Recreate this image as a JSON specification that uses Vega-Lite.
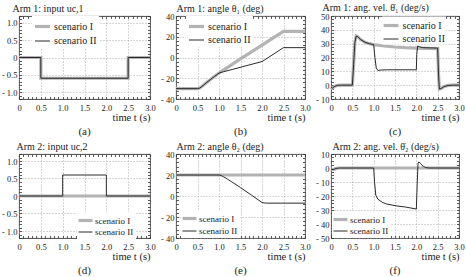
{
"$schema":"https://vega.github.io/schema/vega-lite/v6.json",
"padding":{"left":0,"top":1,"right":0,"bottom":0},
"config":{
 "font":"Liberation Serif",
 "view":{"stroke":"#333","strokeWidth":0.9},
 "axis":{"labelFont":"Liberation Serif","labelFontSize":8.5,"labelColor":"#222","titleFont":"Liberation Serif","titleFontWeight":"normal","titleColor":"#222","ticks":false,"domain":false,"grid":false,"labelFlush":false,"labelOverlap":false,"gridColor":"#999","gridDash":[1,2],"gridWidth":0.8,"tickColor":"#333","tickWidth":0.8,"minExtent":0},
 "legend":{"fillColor":"white","padding":2,"labelFontSize":10,"labelOffset":3,"labelColor":"#222","labelFont":"Liberation Serif"},
 "title":{"orient":"bottom","anchor":"middle","fontSize":11,"fontWeight":"normal","offset":3,"color":"#222","font":"Liberation Serif"}
},
"datasets":{
 "a":[{"s":"scenario I","i":0,"t":0,"v":0},{"s":"scenario I","i":1,"t":0.5,"v":0},{"s":"scenario I","i":2,"t":0.5,"v":-0.6},{"s":"scenario I","i":3,"t":2.5,"v":-0.6},{"s":"scenario I","i":4,"t":2.5,"v":0},{"s":"scenario I","i":5,"t":3,"v":0},
      {"s":"scenario II","i":0,"t":0,"v":0},{"s":"scenario II","i":1,"t":0.5,"v":0},{"s":"scenario II","i":2,"t":0.5,"v":-0.6},{"s":"scenario II","i":3,"t":2.5,"v":-0.6},{"s":"scenario II","i":4,"t":2.5,"v":0},{"s":"scenario II","i":5,"t":3,"v":0}],
 "b":[{"s":"scenario I","i":0,"t":0,"v":-30},{"s":"scenario I","i":1,"t":0.5,"v":-30},{"s":"scenario I","i":2,"t":0.55,"v":-29.5},{"s":"scenario I","i":3,"t":0.6,"v":-28},{"s":"scenario I","i":4,"t":0.7,"v":-24.5},{"s":"scenario I","i":5,"t":0.8,"v":-21.3},{"s":"scenario I","i":6,"t":0.9,"v":-18.1},{"s":"scenario I","i":7,"t":1,"v":-15},{"s":"scenario I","i":8,"t":1.5,"v":-1.3},{"s":"scenario I","i":9,"t":2,"v":12},{"s":"scenario I","i":10,"t":2.5,"v":25.2},{"s":"scenario I","i":11,"t":3,"v":25.2},
      {"s":"scenario II","i":0,"t":0,"v":-30},{"s":"scenario II","i":1,"t":0.5,"v":-30},{"s":"scenario II","i":2,"t":0.55,"v":-29.5},{"s":"scenario II","i":3,"t":0.6,"v":-28},{"s":"scenario II","i":4,"t":0.7,"v":-24.5},{"s":"scenario II","i":5,"t":0.8,"v":-21.3},{"s":"scenario II","i":6,"t":0.9,"v":-18.1},{"s":"scenario II","i":7,"t":1,"v":-15},{"s":"scenario II","i":8,"t":1.05,"v":-14.3},{"s":"scenario II","i":9,"t":1.1,"v":-13.8},{"s":"scenario II","i":10,"t":2,"v":-3.9},{"s":"scenario II","i":11,"t":2.05,"v":-2.6},{"s":"scenario II","i":12,"t":2.5,"v":9.5},{"s":"scenario II","i":13,"t":3,"v":9.5}],
 "c":[{"s":"scenario I","i":0,"t":0,"v":-1.5},{"s":"scenario I","i":1,"t":0.03,"v":-2.2},{"s":"scenario I","i":2,"t":0.08,"v":-1},{"s":"scenario I","i":3,"t":0.15,"v":-0.1},{"s":"scenario I","i":4,"t":0.25,"v":0},{"s":"scenario I","i":5,"t":0.5,"v":0},{"s":"scenario I","i":6,"t":0.53,"v":15},{"s":"scenario I","i":7,"t":0.56,"v":31},{"s":"scenario I","i":8,"t":0.59,"v":35.5},{"s":"scenario I","i":9,"t":0.63,"v":35},{"s":"scenario I","i":10,"t":0.7,"v":32.8},{"s":"scenario I","i":11,"t":0.8,"v":31},{"s":"scenario I","i":12,"t":0.9,"v":30},{"s":"scenario I","i":13,"t":1,"v":29.3},{"s":"scenario I","i":14,"t":1.25,"v":28.3},{"s":"scenario I","i":15,"t":1.5,"v":27.6},{"s":"scenario I","i":16,"t":1.75,"v":27.1},{"s":"scenario I","i":17,"t":2,"v":26.8},{"s":"scenario I","i":18,"t":2.25,"v":26.6},{"s":"scenario I","i":19,"t":2.5,"v":26.4},{"s":"scenario I","i":20,"t":2.52,"v":8},{"s":"scenario I","i":21,"t":2.54,"v":-2.8},{"s":"scenario I","i":22,"t":2.58,"v":-2.5},{"s":"scenario I","i":23,"t":2.65,"v":-1},{"s":"scenario I","i":24,"t":2.75,"v":-0.2},{"s":"scenario I","i":25,"t":2.85,"v":0},{"s":"scenario I","i":26,"t":3,"v":0},
      {"s":"scenario II","i":0,"t":0,"v":-1.5},{"s":"scenario II","i":1,"t":0.03,"v":-2.2},{"s":"scenario II","i":2,"t":0.08,"v":-1},{"s":"scenario II","i":3,"t":0.15,"v":-0.1},{"s":"scenario II","i":4,"t":0.25,"v":0},{"s":"scenario II","i":5,"t":0.5,"v":0},{"s":"scenario II","i":6,"t":0.53,"v":15},{"s":"scenario II","i":7,"t":0.56,"v":31},{"s":"scenario II","i":8,"t":0.59,"v":35.5},{"s":"scenario II","i":9,"t":0.63,"v":35},{"s":"scenario II","i":10,"t":0.7,"v":32.8},{"s":"scenario II","i":11,"t":0.8,"v":31},{"s":"scenario II","i":12,"t":0.9,"v":30},{"s":"scenario II","i":13,"t":1,"v":29.3},{"s":"scenario II","i":14,"t":1.03,"v":20},{"s":"scenario II","i":15,"t":1.06,"v":12.5},{"s":"scenario II","i":16,"t":1.1,"v":10.6},{"s":"scenario II","i":17,"t":1.15,"v":10.9},{"s":"scenario II","i":18,"t":1.3,"v":11.1},{"s":"scenario II","i":19,"t":2,"v":11.1},{"s":"scenario II","i":20,"t":2.01,"v":22},{"s":"scenario II","i":21,"t":2.03,"v":28.3},{"s":"scenario II","i":22,"t":2.07,"v":27.8},{"s":"scenario II","i":23,"t":2.15,"v":27.1},{"s":"scenario II","i":24,"t":2.5,"v":26.8},{"s":"scenario II","i":25,"t":2.52,"v":8},{"s":"scenario II","i":26,"t":2.54,"v":-2.8},{"s":"scenario II","i":27,"t":2.58,"v":-2.5},{"s":"scenario II","i":28,"t":2.65,"v":-1},{"s":"scenario II","i":29,"t":2.75,"v":-0.2},{"s":"scenario II","i":30,"t":2.85,"v":0},{"s":"scenario II","i":31,"t":3,"v":0}],
 "d":[{"s":"scenario I","i":0,"t":0,"v":0},{"s":"scenario I","i":1,"t":3,"v":0},
      {"s":"scenario II","i":0,"t":0,"v":0},{"s":"scenario II","i":1,"t":1,"v":0},{"s":"scenario II","i":2,"t":1,"v":0.6},{"s":"scenario II","i":3,"t":2,"v":0.6},{"s":"scenario II","i":4,"t":2,"v":0},{"s":"scenario II","i":5,"t":3,"v":0}],
 "e":[{"s":"scenario I","i":0,"t":0,"v":20},{"s":"scenario I","i":1,"t":3,"v":20},
      {"s":"scenario II","i":0,"t":0,"v":20},{"s":"scenario II","i":1,"t":1,"v":20},{"s":"scenario II","i":2,"t":1.05,"v":19.5},{"s":"scenario II","i":3,"t":1.1,"v":18.4},{"s":"scenario II","i":4,"t":1.2,"v":16},{"s":"scenario II","i":5,"t":1.3,"v":13.4},{"s":"scenario II","i":6,"t":1.5,"v":8},{"s":"scenario II","i":7,"t":1.75,"v":1},{"s":"scenario II","i":8,"t":2,"v":-6.2},{"s":"scenario II","i":9,"t":2.05,"v":-6.6},{"s":"scenario II","i":10,"t":2.1,"v":-6.8},{"s":"scenario II","i":11,"t":3,"v":-6.8}],
 "f":[{"s":"scenario I","i":0,"t":0,"v":-0.8},{"s":"scenario I","i":1,"t":0.05,"v":-1.2},{"s":"scenario I","i":2,"t":0.12,"v":-0.3},{"s":"scenario I","i":3,"t":0.2,"v":0},{"s":"scenario I","i":4,"t":3,"v":0},
      {"s":"scenario II","i":0,"t":0,"v":-0.8},{"s":"scenario II","i":1,"t":0.05,"v":-1.2},{"s":"scenario II","i":2,"t":0.12,"v":-0.3},{"s":"scenario II","i":3,"t":0.2,"v":0},{"s":"scenario II","i":4,"t":1,"v":0},{"s":"scenario II","i":5,"t":1.02,"v":-10},{"s":"scenario II","i":6,"t":1.05,"v":-19.5},{"s":"scenario II","i":7,"t":1.1,"v":-22.3},{"s":"scenario II","i":8,"t":1.2,"v":-24.5},{"s":"scenario II","i":9,"t":1.3,"v":-25.7},{"s":"scenario II","i":10,"t":1.5,"v":-26.9},{"s":"scenario II","i":11,"t":1.75,"v":-27.9},{"s":"scenario II","i":12,"t":2,"v":-29.3},{"s":"scenario II","i":13,"t":2.02,"v":-12},{"s":"scenario II","i":14,"t":2.04,"v":3.5},{"s":"scenario II","i":15,"t":2.06,"v":4.3},{"s":"scenario II","i":16,"t":2.1,"v":3.2},{"s":"scenario II","i":17,"t":2.15,"v":1.5},{"s":"scenario II","i":18,"t":2.22,"v":0.3},{"s":"scenario II","i":19,"t":2.3,"v":0},{"s":"scenario II","i":20,"t":3,"v":0}]
},
"resolve":{"scale":{"color":"independent","strokeWidth":"independent"},"legend":{"color":"independent","strokeWidth":"independent"}},
"spacing":2,
"vconcat":[
{"hconcat":[
  {"width":131,"height":83,"data":{"name":"a"},"title":{"text":"(a)"},
   "layer":[
    {"mark":{"type":"line"},"encoding":{
      "x":{"field":"t","type":"quantitative","scale":{"domain":[0,3],"nice":false,"zero":false},"axis":{"orient":"bottom","values":[0,0.5,1,1.5,2,2.5,3],"labelExpr":"datum.value == 0 ? '0' : format(datum.value, '.1f')","labelPadding":4,"grid":true,"title":"time t (s)","titleAnchor":"end","titleFontSize":10.5,"titlePadding":1}},
      "y":{"field":"v","type":"quantitative","scale":{"domain":[-1.2,1.2],"nice":false,"zero":false},"axis":{"orient":"left","values":[-1,-0.5,0,0.5,1],"labelExpr":"datum.value == 0 ? '0' : datum.value < 0 ? '- ' + format(-datum.value, '.1f') : format(datum.value, '.1f')","labelPadding":2,"grid":true,"title":null}},
      "color":{"field":"s","type":"nominal","scale":{"domain":["scenario I","scenario II"],"range":["#b3b3b3","#2b2b2b"]},"legend":{"title":null,"orient":"none","legendX":13,"legendY":0,"rowPadding":1,"symbolType":"M-1.15,0H1.15","symbolSize":169}},
      "strokeWidth":{"field":"s","type":"nominal","scale":{"domain":["scenario I","scenario II"],"range":[3.2,1]},"legend":{"title":null,"orient":"none","legendX":13,"legendY":0,"rowPadding":1,"symbolType":"M-1.15,0H1.15","symbolSize":169}},
      "order":{"field":"i","type":"quantitative"}}},
    {"mark":{"type":"line","opacity":0},"encoding":{
      "x":{"field":"t","type":"quantitative","scale":{"domain":[0,3],"nice":false,"zero":false},"axis":{"orient":"bottom","values":[0,0.1,0.2,0.3,0.4,0.5,0.6,0.7,0.8,0.9,1,1.1,1.2,1.3,1.4,1.5,1.6,1.7,1.8,1.9,2,2.1,2.2,2.3,2.4,2.5,2.6,2.7,2.8,2.9,3],"ticks":true,"tickSize":-2.5,"labels":false,"title":null}},
      "y":{"field":"v","type":"quantitative","scale":{"domain":[-1.2,1.2],"nice":false,"zero":false},"axis":{"orient":"left","values":[-1.2,-1.1,-1,-0.9,-0.8,-0.7,-0.6,-0.5,-0.4,-0.3,-0.2,-0.1,0,0.1,0.2,0.3,0.4,0.5,0.6,0.7,0.8,0.9,1,1.1,1.2],"ticks":true,"tickSize":-2.5,"labels":false,"title":null}},
      "order":{"field":"i","type":"quantitative"}}},
    {"mark":{"type":"line","opacity":0},"encoding":{
      "x":{"field":"t","type":"quantitative","scale":{"domain":[0,3],"nice":false,"zero":false},"axis":{"orient":"top","values":[0,0.1,0.2,0.3,0.4,0.5,0.6,0.7,0.8,0.9,1,1.1,1.2,1.3,1.4,1.5,1.6,1.7,1.8,1.9,2,2.1,2.2,2.3,2.4,2.5,2.6,2.7,2.8,2.9,3],"ticks":true,"tickSize":-2.5,"labels":false,"title":"Arm 1: input uc,1","titleAnchor":"start","titleAlign":"left","titleX":-7,"titleY":-5,"titleBaseline":"alphabetic","titleFontSize":10}},
      "y":{"field":"v","type":"quantitative","scale":{"domain":[-1.2,1.2],"nice":false,"zero":false},"axis":{"orient":"right","values":[-1.2,-1.1,-1,-0.9,-0.8,-0.7,-0.6,-0.5,-0.4,-0.3,-0.2,-0.1,0,0.1,0.2,0.3,0.4,0.5,0.6,0.7,0.8,0.9,1,1.1,1.2],"ticks":true,"tickSize":-2.5,"labels":false,"title":null}},
      "order":{"field":"i","type":"quantitative"}}}
   ],
   "resolve":{"axis":{"x":"independent","y":"independent"}}},
  {"width":129,"height":83,"data":{"name":"b"},"title":{"text":"(b)"},
   "layer":[
    {"mark":{"type":"line"},"encoding":{
      "x":{"field":"t","type":"quantitative","scale":{"domain":[0,3],"nice":false,"zero":false},"axis":{"orient":"bottom","values":[0,0.5,1,1.5,2,2.5,3],"labelExpr":"datum.value == 0 ? '0' : format(datum.value, '.1f')","labelPadding":4,"grid":true,"title":"time t (s)","titleAnchor":"end","titleFontSize":10.5,"titlePadding":1}},
      "y":{"field":"v","type":"quantitative","scale":{"domain":[-40,40],"nice":false,"zero":false},"axis":{"orient":"left","values":[-40,-20,0,20,40],"labelExpr":"datum.value < 0 ? '- ' + format(-datum.value, 'd') : format(datum.value, 'd')","labelPadding":2,"grid":true,"title":null}},
      "color":{"field":"s","type":"nominal","scale":{"domain":["scenario I","scenario II"],"range":["#b3b3b3","#2b2b2b"]},"legend":{"title":null,"orient":"none","legendX":10,"legendY":0,"rowPadding":0,"symbolType":"M-1.15,0H1.15","symbolSize":169}},
      "strokeWidth":{"field":"s","type":"nominal","scale":{"domain":["scenario I","scenario II"],"range":[3.2,1]},"legend":{"title":null,"orient":"none","legendX":10,"legendY":0,"rowPadding":0,"symbolType":"M-1.15,0H1.15","symbolSize":169}},
      "order":{"field":"i","type":"quantitative"}}},
    {"mark":{"type":"line","opacity":0},"encoding":{
      "x":{"field":"t","type":"quantitative","scale":{"domain":[0,3],"nice":false,"zero":false},"axis":{"orient":"bottom","values":[0,0.1,0.2,0.3,0.4,0.5,0.6,0.7,0.8,0.9,1,1.1,1.2,1.3,1.4,1.5,1.6,1.7,1.8,1.9,2,2.1,2.2,2.3,2.4,2.5,2.6,2.7,2.8,2.9,3],"ticks":true,"tickSize":-2.5,"labels":false,"title":null}},
      "y":{"field":"v","type":"quantitative","scale":{"domain":[-40,40],"nice":false,"zero":false},"axis":{"orient":"left","values":[-40,-36,-32,-28,-24,-20,-16,-12,-8,-4,0,4,8,12,16,20,24,28,32,36,40],"ticks":true,"tickSize":-2.5,"labels":false,"title":null}},
      "order":{"field":"i","type":"quantitative"}}},
    {"mark":{"type":"line","opacity":0},"encoding":{
      "x":{"field":"t","type":"quantitative","scale":{"domain":[0,3],"nice":false,"zero":false},"axis":{"orient":"top","values":[0,0.1,0.2,0.3,0.4,0.5,0.6,0.7,0.8,0.9,1,1.1,1.2,1.3,1.4,1.5,1.6,1.7,1.8,1.9,2,2.1,2.2,2.3,2.4,2.5,2.6,2.7,2.8,2.9,3],"ticks":true,"tickSize":-2.5,"labels":false,"title":"Arm 1: angle \u03b8\u2081 (deg)","titleAnchor":"start","titleAlign":"left","titleX":0,"titleY":-5,"titleBaseline":"alphabetic","titleFontSize":10}},
      "y":{"field":"v","type":"quantitative","scale":{"domain":[-40,40],"nice":false,"zero":false},"axis":{"orient":"right","values":[-40,-36,-32,-28,-24,-20,-16,-12,-8,-4,0,4,8,12,16,20,24,28,32,36,40],"ticks":true,"tickSize":-2.5,"labels":false,"title":null}},
      "order":{"field":"i","type":"quantitative"}}}
   ],
   "resolve":{"axis":{"x":"independent","y":"independent"}}},
 {"width":128,"height":83,"data":{"name":"c"},"title":{"text":"(c)"},
   "layer":[
    {"mark":{"type":"line"},"encoding":{
      "x":{"field":"t","type":"quantitative","scale":{"domain":[0,3],"nice":false,"zero":false},"axis":{"orient":"bottom","values":[0,0.5,1,1.5,2,2.5,3],"labelExpr":"datum.value == 0 ? '0' : format(datum.value, '.1f')","labelPadding":4,"grid":true,"title":"time t (s)","titleAnchor":"end","titleFontSize":10.5,"titlePadding":1}},
      "y":{"field":"v","type":"quantitative","scale":{"domain":[-10,50],"nice":false,"zero":false},"axis":{"orient":"left","values":[-10,0,10,20,30,40,50],"labelExpr":"datum.value < 0 ? '- ' + format(-datum.value, 'd') : format(datum.value, 'd')","labelPadding":2,"grid":true,"title":null}},
      "color":{"field":"s","type":"nominal","scale":{"domain":["scenario I","scenario II"],"range":["#b3b3b3","#2b2b2b"]},"legend":{"title":null,"orient":"none","legendX":51,"legendY":0.5,"padding":0.5,"rowPadding":0,"symbolType":"M-1.15,0H1.15","symbolSize":169}},
      "strokeWidth":{"field":"s","type":"nominal","scale":{"domain":["scenario I","scenario II"],"range":[3.2,1]},"legend":{"title":null,"orient":"none","legendX":51,"legendY":0.5,"padding":0.5,"rowPadding":0,"symbolType":"M-1.15,0H1.15","symbolSize":169}},
      "order":{"field":"i","type":"quantitative"}}},
    {"mark":{"type":"line","opacity":0},"encoding":{
      "x":{"field":"t","type":"quantitative","scale":{"domain":[0,3],"nice":false,"zero":false},"axis":{"orient":"bottom","values":[0,0.1,0.2,0.3,0.4,0.5,0.6,0.7,0.8,0.9,1,1.1,1.2,1.3,1.4,1.5,1.6,1.7,1.8,1.9,2,2.1,2.2,2.3,2.4,2.5,2.6,2.7,2.8,2.9,3],"ticks":true,"tickSize":-2.5,"labels":false,"title":null}},
      "y":{"field":"v","type":"quantitative","scale":{"domain":[-10,50],"nice":false,"zero":false},"axis":{"orient":"left","values":[-10,-7.5,-5,-2.5,0,2.5,5,7.5,10,12.5,15,17.5,20,22.5,25,27.5,30,32.5,35,37.5,40,42.5,45,47.5,50],"ticks":true,"tickSize":-2.5,"labels":false,"title":null}},
      "order":{"field":"i","type":"quantitative"}}},
    {"mark":{"type":"line","opacity":0},"encoding":{
      "x":{"field":"t","type":"quantitative","scale":{"domain":[0,3],"nice":false,"zero":false},"axis":{"orient":"top","values":[0,0.1,0.2,0.3,0.4,0.5,0.6,0.7,0.8,0.9,1,1.1,1.2,1.3,1.4,1.5,1.6,1.7,1.8,1.9,2,2.1,2.2,2.3,2.4,2.5,2.6,2.7,2.8,2.9,3],"ticks":true,"tickSize":-2.5,"labels":false,"title":"Arm 1: ang. vel. \u03b8\u0307\u2081 (deg/s)","titleAnchor":"start","titleAlign":"left","titleX":-9,"titleY":-6,"titleBaseline":"alphabetic","titleFontSize":10}},
      "y":{"field":"v","type":"quantitative","scale":{"domain":[-10,50],"nice":false,"zero":false},"axis":{"orient":"right","values":[-10,-7.5,-5,-2.5,0,2.5,5,7.5,10,12.5,15,17.5,20,22.5,25,27.5,30,32.5,35,37.5,40,42.5,45,47.5,50],"ticks":true,"tickSize":-2.5,"labels":false,"title":null}},
      "order":{"field":"i","type":"quantitative"}}}
   ],
   "resolve":{"axis":{"x":"independent","y":"independent"}}}
],"spacing":26,"bounds":"flush","resolve":{"scale":{"color":"independent","strokeWidth":"independent"},"legend":{"color":"independent","strokeWidth":"independent"}}},
{"hconcat":[
  {"width":131,"height":84,"data":{"name":"d"},"title":{"text":"(d)"},
   "layer":[
    {"mark":{"type":"line"},"encoding":{
      "x":{"field":"t","type":"quantitative","scale":{"domain":[0,3],"nice":false,"zero":false},"axis":{"orient":"bottom","values":[0,0.5,1,1.5,2,2.5,3],"labelExpr":"datum.value == 0 ? '0' : format(datum.value, '.1f')","labelPadding":4,"grid":true,"title":"time t (s)","titleAnchor":"end","titleFontSize":10.5,"titlePadding":1}},
      "y":{"field":"v","type":"quantitative","scale":{"domain":[-1.2,1.2],"nice":false,"zero":false},"axis":{"orient":"left","values":[-1,-0.5,0,0.5,1],"labelExpr":"datum.value == 0 ? '0' : datum.value < 0 ? '- ' + format(-datum.value, '.1f') : format(datum.value, '.1f')","labelPadding":2,"grid":true,"title":null}},
      "color":{"field":"s","type":"nominal","scale":{"domain":["scenario I","scenario II"],"range":["#b3b3b3","#2b2b2b"]},"legend":{"title":null,"orient":"none","legendX":58,"legendY":58,"rowPadding":0,"labelFontSize":9,"symbolType":"M-1.55,0H1.55","symbolSize":81}},
      "strokeWidth":{"field":"s","type":"nominal","scale":{"domain":["scenario I","scenario II"],"range":[3.2,1]},"legend":{"title":null,"orient":"none","legendX":58,"legendY":58,"rowPadding":0,"labelFontSize":9,"symbolType":"M-1.55,0H1.55","symbolSize":81}},
      "order":{"field":"i","type":"quantitative"}}},
    {"mark":{"type":"line","opacity":0},"encoding":{
      "x":{"field":"t","type":"quantitative","scale":{"domain":[0,3],"nice":false,"zero":false},"axis":{"orient":"bottom","values":[0,0.1,0.2,0.3,0.4,0.5,0.6,0.7,0.8,0.9,1,1.1,1.2,1.3,1.4,1.5,1.6,1.7,1.8,1.9,2,2.1,2.2,2.3,2.4,2.5,2.6,2.7,2.8,2.9,3],"ticks":true,"tickSize":-2.5,"labels":false,"title":null}},
      "y":{"field":"v","type":"quantitative","scale":{"domain":[-1.2,1.2],"nice":false,"zero":false},"axis":{"orient":"left","values":[-1.2,-1.1,-1,-0.9,-0.8,-0.7,-0.6,-0.5,-0.4,-0.3,-0.2,-0.1,0,0.1,0.2,0.3,0.4,0.5,0.6,0.7,0.8,0.9,1,1.1,1.2],"ticks":true,"tickSize":-2.5,"labels":false,"title":null}},
      "order":{"field":"i","type":"quantitative"}}},
    {"mark":{"type":"line","opacity":0},"encoding":{
      "x":{"field":"t","type":"quantitative","scale":{"domain":[0,3],"nice":false,"zero":false},"axis":{"orient":"top","values":[0,0.1,0.2,0.3,0.4,0.5,0.6,0.7,0.8,0.9,1,1.1,1.2,1.3,1.4,1.5,1.6,1.7,1.8,1.9,2,2.1,2.2,2.3,2.4,2.5,2.6,2.7,2.8,2.9,3],"ticks":true,"tickSize":-2.5,"labels":false,"title":"Arm 2: input uc,2","titleAnchor":"start","titleAlign":"left","titleX":-3,"titleY":-5,"titleBaseline":"alphabetic","titleFontSize":10}},
      "y":{"field":"v","type":"quantitative","scale":{"domain":[-1.2,1.2],"nice":false,"zero":false},"axis":{"orient":"right","values":[-1.2,-1.1,-1,-0.9,-0.8,-0.7,-0.6,-0.5,-0.4,-0.3,-0.2,-0.1,0,0.1,0.2,0.3,0.4,0.5,0.6,0.7,0.8,0.9,1,1.1,1.2],"ticks":true,"tickSize":-2.5,"labels":false,"title":null}},
      "order":{"field":"i","type":"quantitative"}}}
   ],
   "resolve":{"axis":{"x":"independent","y":"independent"}}},
  {"width":129,"height":84,"data":{"name":"e"},"title":{"text":"(e)"},
   "layer":[
    {"mark":{"type":"line"},"encoding":{
      "x":{"field":"t","type":"quantitative","scale":{"domain":[0,3],"nice":false,"zero":false},"axis":{"orient":"bottom","values":[0,0.5,1,1.5,2,2.5,3],"labelExpr":"datum.value == 0 ? '0' : format(datum.value, '.1f')","labelPadding":4,"grid":true,"title":"time t (s)","titleAnchor":"end","titleFontSize":10.5,"titlePadding":1}},
      "y":{"field":"v","type":"quantitative","scale":{"domain":[-40,40],"nice":false,"zero":false},"axis":{"orient":"left","values":[-40,-20,0,20,40],"labelExpr":"datum.value < 0 ? '- ' + format(-datum.value, 'd') : format(datum.value, 'd')","labelPadding":2,"grid":true,"title":null}},
      "color":{"field":"s","type":"nominal","scale":{"domain":["scenario I","scenario II"],"range":["#b3b3b3","#2b2b2b"]},"legend":{"title":null,"orient":"none","legendX":5,"legendY":56,"rowPadding":1,"labelFontSize":9,"symbolType":"M-1.55,0H1.55","symbolSize":81}},
      "strokeWidth":{"field":"s","type":"nominal","scale":{"domain":["scenario I","scenario II"],"range":[3.2,1]},"legend":{"title":null,"orient":"none","legendX":5,"legendY":56,"rowPadding":1,"labelFontSize":9,"symbolType":"M-1.55,0H1.55","symbolSize":81}},
      "order":{"field":"i","type":"quantitative"}}},
    {"mark":{"type":"line","opacity":0},"encoding":{
      "x":{"field":"t","type":"quantitative","scale":{"domain":[0,3],"nice":false,"zero":false},"axis":{"orient":"bottom","values":[0,0.1,0.2,0.3,0.4,0.5,0.6,0.7,0.8,0.9,1,1.1,1.2,1.3,1.4,1.5,1.6,1.7,1.8,1.9,2,2.1,2.2,2.3,2.4,2.5,2.6,2.7,2.8,2.9,3],"ticks":true,"tickSize":-2.5,"labels":false,"title":null}},
      "y":{"field":"v","type":"quantitative","scale":{"domain":[-40,40],"nice":false,"zero":false},"axis":{"orient":"left","values":[-40,-36,-32,-28,-24,-20,-16,-12,-8,-4,0,4,8,12,16,20,24,28,32,36,40],"ticks":true,"tickSize":-2.5,"labels":false,"title":null}},
      "order":{"field":"i","type":"quantitative"}}},
    {"mark":{"type":"line","opacity":0},"encoding":{
      "x":{"field":"t","type":"quantitative","scale":{"domain":[0,3],"nice":false,"zero":false},"axis":{"orient":"top","values":[0,0.1,0.2,0.3,0.4,0.5,0.6,0.7,0.8,0.9,1,1.1,1.2,1.3,1.4,1.5,1.6,1.7,1.8,1.9,2,2.1,2.2,2.3,2.4,2.5,2.6,2.7,2.8,2.9,3],"ticks":true,"tickSize":-2.5,"labels":false,"title":"Arm 2: angle \u03b8\u2082 (deg)","titleAnchor":"start","titleAlign":"left","titleX":0,"titleY":-5,"titleBaseline":"alphabetic","titleFontSize":10}},
      "y":{"field":"v","type":"quantitative","scale":{"domain":[-40,40],"nice":false,"zero":false},"axis":{"orient":"right","values":[-40,-36,-32,-28,-24,-20,-16,-12,-8,-4,0,4,8,12,16,20,24,28,32,36,40],"ticks":true,"tickSize":-2.5,"labels":false,"title":null}},
      "order":{"field":"i","type":"quantitative"}}}
   ],
   "resolve":{"axis":{"x":"independent","y":"independent"}}},
 {"width":128,"height":84,"data":{"name":"f"},"title":{"text":"(f)"},
   "layer":[
    {"mark":{"type":"line"},"encoding":{
      "x":{"field":"t","type":"quantitative","scale":{"domain":[0,3],"nice":false,"zero":false},"axis":{"orient":"bottom","values":[0,0.5,1,1.5,2,2.5,3],"labelExpr":"datum.value == 0 ? '0' : format(datum.value, '.1f')","labelPadding":4,"grid":true,"title":"time t (s)","titleAnchor":"end","titleFontSize":10.5,"titlePadding":1}},
      "y":{"field":"v","type":"quantitative","scale":{"domain":[-50,10],"nice":false,"zero":false},"axis":{"orient":"left","values":[-50,-40,-30,-20,-10,0,10],"labelExpr":"datum.value < 0 ? '- ' + format(-datum.value, 'd') : format(datum.value, 'd')","labelPadding":2,"grid":true,"title":null}},
      "color":{"field":"s","type":"nominal","scale":{"domain":["scenario I","scenario II"],"range":["#b3b3b3","#2b2b2b"]},"legend":{"title":null,"orient":"none","legendX":1,"legendY":57,"rowPadding":0,"labelFontSize":9,"symbolType":"M-1.55,0H1.55","symbolSize":81}},
      "strokeWidth":{"field":"s","type":"nominal","scale":{"domain":["scenario I","scenario II"],"range":[3.2,1]},"legend":{"title":null,"orient":"none","legendX":1,"legendY":57,"rowPadding":0,"labelFontSize":9,"symbolType":"M-1.55,0H1.55","symbolSize":81}},
      "order":{"field":"i","type":"quantitative"}}},
    {"mark":{"type":"line","opacity":0},"encoding":{
      "x":{"field":"t","type":"quantitative","scale":{"domain":[0,3],"nice":false,"zero":false},"axis":{"orient":"bottom","values":[0,0.1,0.2,0.3,0.4,0.5,0.6,0.7,0.8,0.9,1,1.1,1.2,1.3,1.4,1.5,1.6,1.7,1.8,1.9,2,2.1,2.2,2.3,2.4,2.5,2.6,2.7,2.8,2.9,3],"ticks":true,"tickSize":-2.5,"labels":false,"title":null}},
      "y":{"field":"v","type":"quantitative","scale":{"domain":[-50,10],"nice":false,"zero":false},"axis":{"orient":"left","values":[-50,-47.5,-45,-42.5,-40,-37.5,-35,-32.5,-30,-27.5,-25,-22.5,-20,-17.5,-15,-12.5,-10,-7.5,-5,-2.5,0,2.5,5,7.5,10],"ticks":true,"tickSize":-2.5,"labels":false,"title":null}},
      "order":{"field":"i","type":"quantitative"}}},
    {"mark":{"type":"line","opacity":0},"encoding":{
      "x":{"field":"t","type":"quantitative","scale":{"domain":[0,3],"nice":false,"zero":false},"axis":{"orient":"top","values":[0,0.1,0.2,0.3,0.4,0.5,0.6,0.7,0.8,0.9,1,1.1,1.2,1.3,1.4,1.5,1.6,1.7,1.8,1.9,2,2.1,2.2,2.3,2.4,2.5,2.6,2.7,2.8,2.9,3],"ticks":true,"tickSize":-2.5,"labels":false,"title":"Arm 2: ang. vel. \u03b8\u0307\u2082 (deg/s)","titleAnchor":"start","titleAlign":"left","titleX":1,"titleY":-5,"titleBaseline":"alphabetic","titleFontSize":10}},
      "y":{"field":"v","type":"quantitative","scale":{"domain":[-50,10],"nice":false,"zero":false},"axis":{"orient":"right","values":[-50,-47.5,-45,-42.5,-40,-37.5,-35,-32.5,-30,-27.5,-25,-22.5,-20,-17.5,-15,-12.5,-10,-7.5,-5,-2.5,0,2.5,5,7.5,10],"ticks":true,"tickSize":-2.5,"labels":false,"title":null}},
      "order":{"field":"i","type":"quantitative"}}}
   ],
   "resolve":{"axis":{"x":"independent","y":"independent"}}}
],"spacing":26,"bounds":"flush","resolve":{"scale":{"color":"independent","strokeWidth":"independent"},"legend":{"color":"independent","strokeWidth":"independent"}}}
]
}
